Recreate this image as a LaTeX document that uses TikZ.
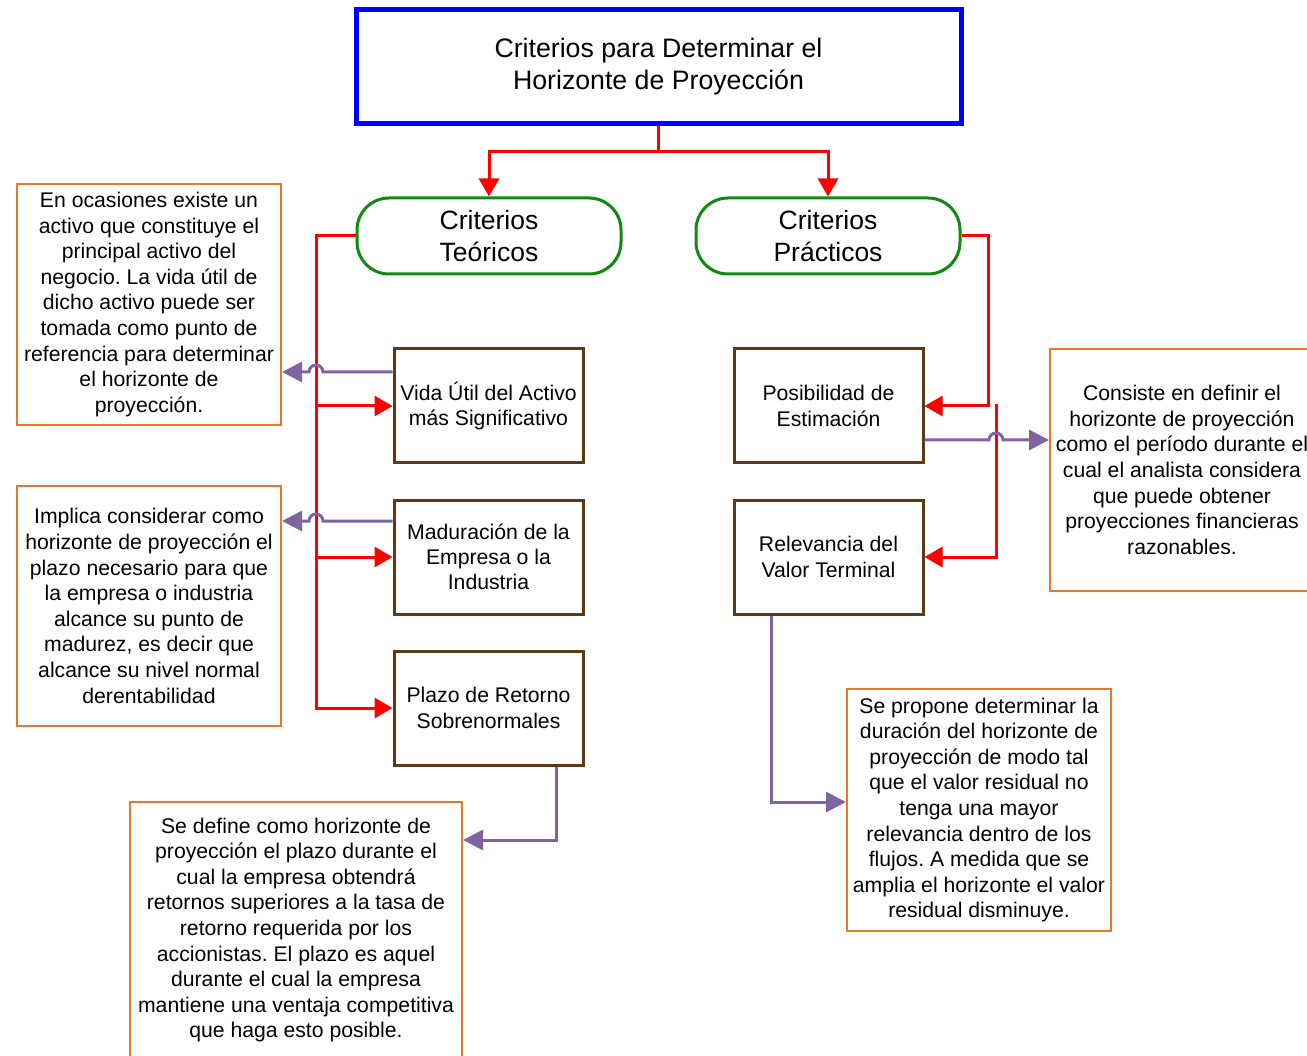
\documentclass[tikz,border=0pt]{standalone}
\usepackage{fontspec}
\setmainfont{Liberation Sans}
\usetikzlibrary{arrows.meta,calc}
\definecolor{cblue}{HTML}{0000FF}
\definecolor{cred}{HTML}{FF0000}
\definecolor{cgreen}{HTML}{118A11}
\definecolor{cbrown}{HTML}{5E3A14}
\definecolor{corange}{HTML}{E8782A}
\definecolor{cpurple}{HTML}{8064A2}
\frenchspacing
\begin{document}
\begin{tikzpicture}[x=1pt,y=-1pt,
  titlebox/.style={draw=cblue, line width=5pt, minimum width=605pt, minimum height=114pt, align=center, inner sep=0pt, font=\fontsize{26.7}{32}\selectfont},
  critbox/.style={draw=cgreen, line width=3pt, rounded corners=32pt, minimum width=264pt, minimum height=76pt, align=center, inner sep=0pt, font=\fontsize{26.5}{32}\selectfont},
  brownbox/.style={draw=cbrown, line width=3pt, minimum width=189pt, minimum height=114pt, align=center, inner sep=0pt, font=\fontsize{21.2}{25.2}\selectfont},
  notebox/.style={draw=corange, line width=2pt, minimum width=264pt, minimum height=241pt, align=center, inner sep=0pt, font=\fontsize{21.2}{25.6}\selectfont},
  redline/.style={draw=cred, line width=3pt},
  redarr/.style={redline, -{Triangle[length=18pt,width=20pt]}},
  purarr/.style={draw=cpurple, line width=3pt, -{Triangle[length=20pt,width=20pt]}}
]
\useasboundingbox (0,0) rectangle (1307,1056);
\fill[white] (0,0) rectangle (1307,1056);
\clip (0,0) rectangle (1307,1056);

% main boxes
\node[titlebox] (title) at (658.5,67) {Criterios para Determinar el\\Horizonte de Proyección};
\node[critbox] (teo) at (489,236) {Criterios\\Teóricos};
\node[critbox] (pra) at (828,236) {Criterios\\Prácticos};

\node[brownbox] (vida)  at (488.5,406) {Vida Útil del Activo\\más Significativo};
\node[brownbox] (madu)  at (488.5,557) {Maduración de la\\Empresa o la\\Industria};
\node[brownbox] (plazo) at (488.5,708) {Plazo de Retorno\\Sobrenormales};
\node[brownbox] (posi)  at (828.5,406) {Posibilidad de\\Estimación};
\node[brownbox] (rele)  at (828.5,557) {Relevancia del\\Valor Terminal};

% notes
\node[notebox] (o1) at (149,304.5) {En ocasiones existe un\\activo que constituye el\\principal activo del\\negocio. La vida útil de\\dicho activo puede ser\\tomada como punto de\\referencia para determinar\\el horizonte de\\proyección.};
\node[notebox, minimum height=240pt] (o2) at (149,606) {Implica considerar como\\horizonte de proyección el\\plazo necesario para que\\la empresa o industria\\alcance su punto de\\madurez, es decir que\\alcance su nivel normal\\derentabilidad};
\node[notebox, minimum width=332pt, minimum height=256pt] (o3) at (296,930) {Se define como horizonte de\\proyección el plazo durante el\\cual la empresa obtendrá\\retornos superiores a la tasa de\\retorno requerida por los\\accionistas. El plazo es aquel\\durante el cual la empresa\\mantiene una ventaja competitiva\\que haga esto posible.};
\node[notebox, minimum height=242pt] (o4) at (1182,470) {Consiste en definir el\\horizonte de proyección\\como el período durante el\\cual el analista considera\\que puede obtener\\proyecciones financieras\\razonables.};
\node[notebox, minimum height=242pt] (o5) at (979,810) {Se propone determinar la\\duración del horizonte de\\proyección de modo tal\\que el valor residual no\\tenga una mayor\\relevancia dentro de los\\flujos. A medida que se\\amplia el horizonte el valor\\residual disminuye.};

% red connectors
\draw[redarr] (title.south) -- ++(0,25) -| (teo.north);
\draw[redarr] (title.south) -- ++(0,25) -| (pra.north);

\coordinate (tk) at (316,0);
\draw[redarr] (teo.west) -- (tk |- teo.west) -- (tk |- plazo.west) -- (plazo.west);
\draw[redarr] (tk |- vida.west) -- (vida.west);
\draw[redarr] (tk |- madu.west) -- (madu.west);

\coordinate (rk1) at (988,0);
\coordinate (rk2) at (996,404);
\draw[redarr] (pra.east) -- (rk1 |- pra.east) -- (rk1 |- posi.east) -- (posi.east);
\draw[redarr] (rk2) -- (rk2 |- rele.east) -- (rele.east);

% purple connectors with hops
\draw[purarr] ($(vida.west)+(0,-34)$) -- ($(tk |- vida.west)+(7,-34)$)
  arc[start angle=0, end angle=-180, radius=7] -- ($(o1.east |- vida.west)+(0,-34)$);
\draw[purarr] ($(madu.west)+(0,-36)$) -- ($(tk |- madu.west)+(7,-36)$)
  arc[start angle=0, end angle=-180, radius=7] -- ($(o2.east |- madu.west)+(0,-36)$);
\draw[purarr] ($(posi.east)+(0,34)$) -- ($(rk2 |- posi.east)+(-7,34)$)
  arc[start angle=180, end angle=360, radius=7] -- ($(o4.west |- posi.east)+(0,34)$);
\draw[purarr] ($(plazo.south)+(67.5,0)$) |- ($(o3.east)+(0,-90)$);
\draw[purarr] ($(rele.south)+(-57.5,0)$) |- ($(o5.west)+(0,-8)$);
\end{tikzpicture}
\end{document}
